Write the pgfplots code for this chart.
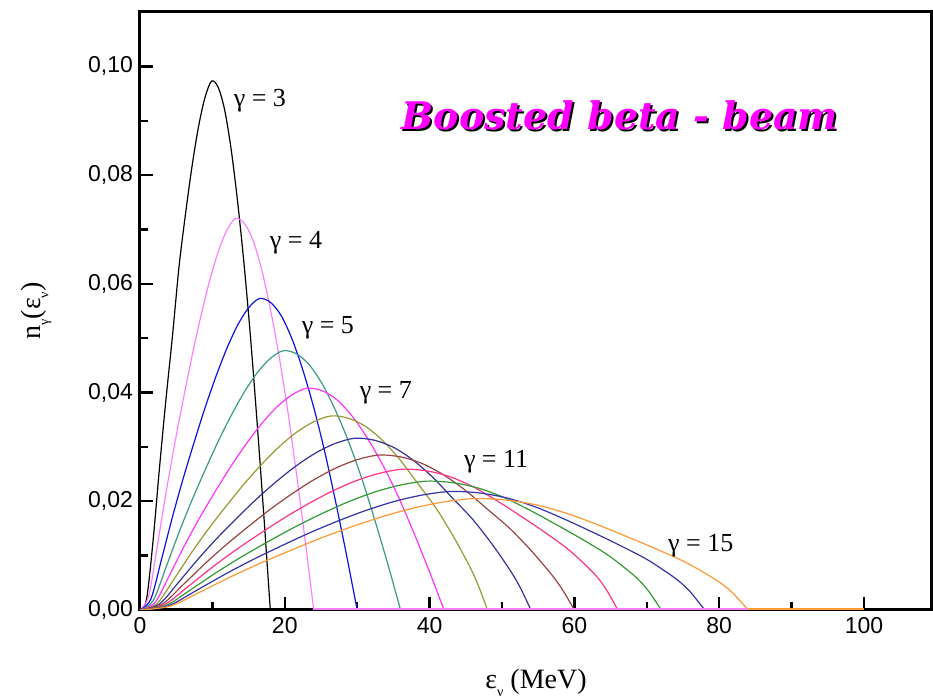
\documentclass[border=0pt]{standalone}
\usepackage{fontspec}
\setmainfont{Liberation Serif}
\setsansfont{Liberation Sans}
\newfontfamily\titlefont{DejaVu Serif}
\usepackage{pgfplots}
\pgfplotsset{compat=1.18}
\definecolor{cA}{HTML}{000000}
\definecolor{cB}{HTML}{FF80FF}
\definecolor{cC}{HTML}{1010E0}
\definecolor{cD}{HTML}{3A9A8A}
\definecolor{cE}{HTML}{FF33FF}
\definecolor{cF}{HTML}{999933}
\definecolor{cG}{HTML}{333399}
\definecolor{cH}{HTML}{994444}
\definecolor{cI}{HTML}{FF3388}
\definecolor{cJ}{HTML}{339933}
\definecolor{cK}{HTML}{3333AA}
\definecolor{cL}{HTML}{FF9933}
\definecolor{titlemag}{HTML}{FF00FF}
\begin{document}
\begin{tikzpicture}
\path[use as bounding box] (-70pt,-45pt) rectangle (396.5pt,305pt);
\begin{axis}[
  scale only axis, width=396pt, height=299pt,
  at={(0,0)}, anchor=south west,
  xmin=0, xmax=109.4, ymin=0, ymax=0.11,
  axis line style={line width=1.5pt},
  xtick={0,20,40,60,80,100}, minor xtick={10,30,50,70,90},
  ytick={0,0.02,0.04,0.06,0.08,0.10}, minor ytick={0.01,0.03,0.05,0.07,0.09},
  tick align=inside, xtick pos=left, ytick pos=left,
  major tick length=6.5pt, minor tick length=4pt,
  tick style={line width=1.2pt, black},
  tick label style={font=\sffamily\fontsize{11.5}{13}\selectfont},
  /pgf/number format/assume math mode=true,
  yticklabel style={/pgf/number format/.cd, fixed, fixed zerofill, precision=2, use comma},
  xticklabel style={/pgf/number format/.cd, fixed},
  scaled y ticks=false,
  xlabel={ε\raisebox{-0.6ex}{\scriptsize ν} (MeV)},
  ylabel={n\raisebox{-0.6ex}{\scriptsize γ}(ε\raisebox{-0.6ex}{\scriptsize ν})},
  label style={font=\fontsize{14}{16}\selectfont},
  xlabel style={at={(axis description cs:0.5,-0.122)}, anchor=center},
  ylabel style={at={(axis description cs:-0.131,0.5)}, anchor=center},
  every axis plot/.append style={line width=0.6pt, smooth},
]
% gamma = 3
\addplot[cA] coordinates {(0,0) (0.9,0.00195) (1.8,0.01265) (2.7,0.02627) (3.6,0.03892) (4.5,0.0506) (5.4,0.06325) (6.3,0.07298) (7.2,0.08173) (8.1,0.08903) (9.0,0.09438) (9.9,0.0973) (10.8,0.09613) (11.7,0.09195) (12.6,0.08465) (13.5,0.07492) (14.4,0.06325) (15.3,0.04962) (16.2,0.03406) (17.1,0.01751) (17.55,0.00876) (18,0)};
% gamma = 4
\addplot[cB] coordinates {(0,0) (1.2,0.00252) (2.4,0.01188) (3.6,0.0216) (4.8,0.0306) (6.0,0.03888) (7.2,0.0468) (8.4,0.054) (9.6,0.06048) (10.8,0.06588) (12.0,0.06984) (13.2,0.072) (14.4,0.07114) (15.6,0.06804) (16.8,0.06264) (18.0,0.05544) (19.2,0.0468) (20.4,0.03672) (21.6,0.0252) (22.8,0.01296) (23.4,0.00648) (24,0)};
% gamma = 5
\addplot[cC] coordinates {(0,0) (1.5,0.00201) (3,0.00945) (4.5,0.01719) (6,0.02435) (7.5,0.03094) (9,0.03725) (10.5,0.04298) (12,0.04813) (13.5,0.05243) (15,0.05558) (16.5,0.0573) (18,0.05661) (19.5,0.05415) (21,0.04985) (22.5,0.04412) (24,0.03725) (25.5,0.02922) (27,0.02006) (28.5,0.01031) (29.25,0.00516) (30,0)};
% gamma = 6
\addplot[cD] coordinates {(0,0) (1.8,0.00167) (3.6,0.00787) (5.4,0.01431) (7.2,0.02027) (9,0.02576) (10.8,0.03101) (12.6,0.03578) (14.4,0.04007) (16.2,0.04365) (18,0.04627) (19.8,0.0477) (21.6,0.04713) (23.4,0.04508) (25.2,0.0415) (27,0.03673) (28.8,0.03101) (30.6,0.02433) (32.4,0.0167) (34.2,0.00859) (35.1,0.00429) (36,0)};
% gamma = 7
\addplot[cE] coordinates {(0,0) (2.1,0.00143) (4.2,0.00673) (6.3,0.01224) (8.4,0.01734) (10.5,0.02203) (12.6,0.02652) (14.7,0.0306) (16.8,0.03427) (18.9,0.03733) (21,0.03958) (23.1,0.0408) (25.2,0.04031) (27.3,0.03856) (29.4,0.0355) (31.5,0.03142) (33.6,0.02652) (35.7,0.02081) (37.8,0.01428) (39.9,0.00734) (40.95,0.00367) (42,0)};
% gamma = 8
\addplot[cF] coordinates {(0,0) (2.4,0.00125) (4.8,0.00589) (7.2,0.01071) (9.6,0.01517) (12,0.01928) (14.4,0.02321) (16.8,0.02678) (19.2,0.02999) (21.6,0.03267) (24,0.03463) (26.4,0.0357) (28.8,0.03527) (31.2,0.03374) (33.6,0.03106) (36,0.02749) (38.4,0.02321) (40.8,0.01892) (43.2,0.01374) (45.6,0.00785) (46.8,0.00428) (48,0)};
% gamma = 9
\addplot[cG] coordinates {(0,0) (2.7,0.00111) (5.4,0.00521) (8.1,0.00948) (10.8,0.01343) (13.5,0.01706) (16.2,0.02054) (18.9,0.0237) (21.6,0.02654) (24.3,0.02891) (27,0.03065) (29.7,0.0316) (32.4,0.03122) (35.1,0.02986) (37.8,0.02749) (40.5,0.02433) (43.2,0.02054) (45.9,0.01675) (48.6,0.01217) (51.3,0.00695) (52.65,0.00379) (54,0)};
% gamma = 10
\addplot[cH] coordinates {(0,0) (3,0.001) (6,0.0047) (9,0.00855) (12,0.01211) (15,0.01539) (18,0.01853) (21,0.02138) (24,0.02394) (27,0.02608) (30,0.02765) (33,0.0285) (36,0.02816) (39,0.02693) (42,0.0248) (45,0.02195) (48,0.01853) (51,0.0151) (54,0.01097) (57,0.00627) (58.5,0.00342) (60,0)};
% gamma = 11
\addplot[cI] coordinates {(0,0) (3.3,0.00091) (6.6,0.00427) (9.9,0.00777) (13.2,0.01101) (16.5,0.01399) (19.8,0.01684) (23.1,0.01943) (26.4,0.02176) (29.7,0.0237) (33,0.02512) (36.3,0.0259) (39.6,0.02559) (42.9,0.02448) (46.2,0.02253) (49.5,0.01994) (52.8,0.01709) (56.1,0.01412) (59.4,0.01088) (62.7,0.00673) (64.35,0.00389) (66,0)};
% gamma = 12
\addplot[cJ] coordinates {(0,0) (3.6,0.00083) (7.2,0.00391) (10.8,0.00711) (14.4,0.01007) (18,0.0128) (21.6,0.01541) (25.2,0.01778) (28.8,0.01991) (32.4,0.02169) (36,0.02299) (39.6,0.0237) (43.2,0.02342) (46.8,0.0224) (50.4,0.02062) (54,0.01825) (57.6,0.01564) (61.2,0.01292) (64.8,0.00995) (68.4,0.00616) (70.2,0.00356) (72,0)};
% gamma = 13
\addplot[cK] coordinates {(0,0) (3.9,0.00076) (7.8,0.0036) (11.7,0.00654) (15.6,0.00927) (19.5,0.01177) (23.4,0.01417) (27.3,0.01635) (31.2,0.01831) (35.1,0.01995) (39,0.02115) (42.9,0.0218) (46.8,0.02154) (50.7,0.0206) (54.6,0.01897) (58.5,0.01679) (62.4,0.01439) (66.3,0.01188) (70.2,0.00916) (74.1,0.00567) (76.05,0.00327) (78,0)};
% gamma = 15
\addplot[cL] coordinates {(0,0) (4.2,0.00072) (8.4,0.00338) (12.6,0.00615) (16.8,0.00871) (21,0.01107) (25.2,0.01333) (29.4,0.01538) (33.6,0.01722) (37.8,0.01876) (42,0.01989) (46.2,0.0205) (50.4,0.02025) (54.6,0.01937) (58.8,0.01784) (63,0.01579) (67.2,0.01353) (71.4,0.01117) (75.6,0.00861) (79.8,0.00533) (81.9,0.00308) (84,0)};
% zero tails
\addplot[cB, sharp plot] coordinates {(24,0.0002) (100,0.0002)};
\addplot[cL, sharp plot] coordinates {(84,0.0002) (100,0.0002)};

\begin{scope}[every node/.style={anchor=west, inner sep=0pt, font=\fontsize{13}{15}\selectfont}]
\node at (axis cs:12.9,0.0937) {γ = 3};
\node at (axis cs:17.9,0.0675) {γ = 4};
\node at (axis cs:22.3,0.0520) {γ = 5};
\node at (axis cs:30.3,0.0399) {γ = 7};
\node at (axis cs:44.7,0.0272) {γ = 11};
\node at (axis cs:72.9,0.0118) {γ = 15};
\end{scope}

\node[black, font=\fontsize{19}{22}\selectfont\titlefont\bfseries\itshape, xshift=1pt, yshift=-1pt] at (axis cs:66.3,0.091) {Boosted beta - beam};
\node[titlemag, font=\fontsize{19}{22}\selectfont\titlefont\bfseries\itshape] at (axis cs:66.3,0.091) {Boosted beta - beam};
\end{axis}
\end{tikzpicture}
\end{document}
